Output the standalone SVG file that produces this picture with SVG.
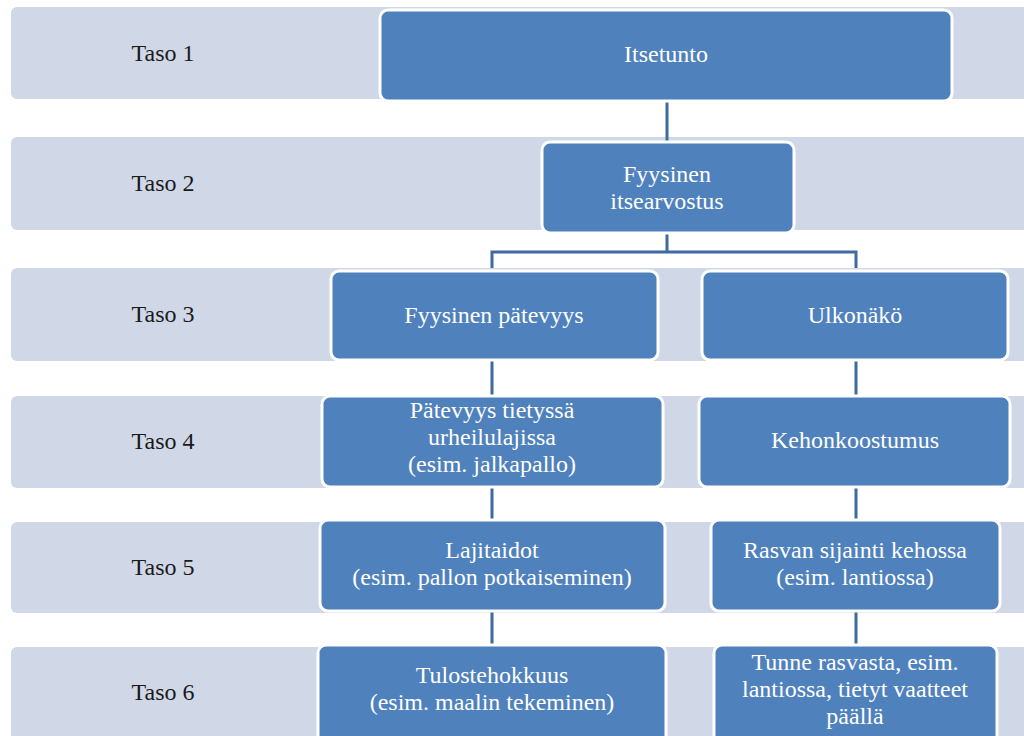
<svg xmlns="http://www.w3.org/2000/svg" width="1024" height="736" viewBox="0 0 1024 736">
<style>
.band{fill:#D0D8E8}
.node rect{fill:#4F81BD;stroke:#FFFFFF;stroke-width:3}
.con{fill:none;stroke:#3E6A9E;stroke-width:3}
</style>
<rect width="1024" height="736" fill="#FFFFFF"/>
<g id="bands">
<rect class="band" x="11" y="7" width="1030" height="92" rx="6"/>
<rect class="band" x="11" y="137" width="1030" height="93" rx="6"/>
<rect class="band" x="11" y="268" width="1030" height="93" rx="6"/>
<rect class="band" x="11" y="396" width="1030" height="92" rx="6"/>
<rect class="band" x="11" y="522" width="1030" height="91" rx="6"/>
<rect class="band" x="11" y="647" width="1030" height="100" rx="6"/>
<g font-family="Liberation Serif, Times New Roman, serif" font-size="24" fill="#1a1a1a" text-anchor="middle">
<text x="163" y="61">Taso 1</text>
<text x="163" y="191">Taso 2</text>
<text x="163" y="322">Taso 3</text>
<text x="163" y="449">Taso 4</text>
<text x="163" y="575">Taso 5</text>
<text x="163" y="700">Taso 6</text>
</g>
</g>
<g id="connectors">
<path class="con" d="M667 100V143"/>
<path class="con" d="M667 232V252M492 268V252H856V268"/>
<path class="con" d="M492 360V396"/>
<path class="con" d="M856 360V396"/>
<path class="con" d="M492 487V520"/>
<path class="con" d="M856 487V520"/>
<path class="con" d="M492 611V645"/>
<path class="con" d="M856 611V645"/>
</g>
<g font-family="Liberation Serif, Times New Roman, serif" font-size="24" fill="#FFFFFF" text-anchor="middle">
<g id="n1" class="node"><rect x="380" y="10" width="572" height="91" rx="8"/><text x="666" y="62">Itsetunto</text></g>
<g id="n2" class="node"><rect x="542" y="142" width="252" height="91" rx="8"/><text x="667" y="182">Fyysinen</text><text x="667" y="209">itsearvostus</text></g>
<g id="n3a" class="node"><rect x="331" y="271" width="327" height="89" rx="8"/><text x="494" y="323">Fyysinen pätevyys</text></g>
<g id="n3b" class="node"><rect x="702" y="271" width="306" height="89" rx="8"/><text x="855" y="323">Ulkonäkö</text></g>
<g id="n4a" class="node"><rect x="322" y="396" width="341" height="91" rx="8"/><text x="492" y="418">Pätevyys tietyssä</text><text x="492" y="445">urheilulajissa</text><text x="492" y="472">(esim. jalkapallo)</text></g>
<g id="n4b" class="node"><rect x="699" y="396" width="311" height="91" rx="8"/><text x="855" y="448">Kehonkoostumus</text></g>
<g id="n5a" class="node"><rect x="320" y="520" width="345" height="91" rx="8"/><text x="492" y="558">Lajitaidot</text><text x="492" y="585">(esim. pallon potkaiseminen)</text></g>
<g id="n5b" class="node"><rect x="711" y="520" width="289" height="91" rx="8"/><text x="855" y="558">Rasvan sijainti kehossa</text><text x="855" y="585">(esim. lantiossa)</text></g>
<g id="n6a" class="node"><rect x="318" y="645" width="348" height="100" rx="8"/><text x="492" y="683">Tulostehokkuus</text><text x="492" y="710">(esim. maalin tekeminen)</text></g>
<g id="n6b" class="node"><rect x="714" y="645" width="283" height="100" rx="8"/><text x="855" y="670">Tunne rasvasta, esim.</text><text x="855" y="697">lantiossa, tietyt vaatteet</text><text x="855" y="724">päällä</text></g>
</g>
</svg>
